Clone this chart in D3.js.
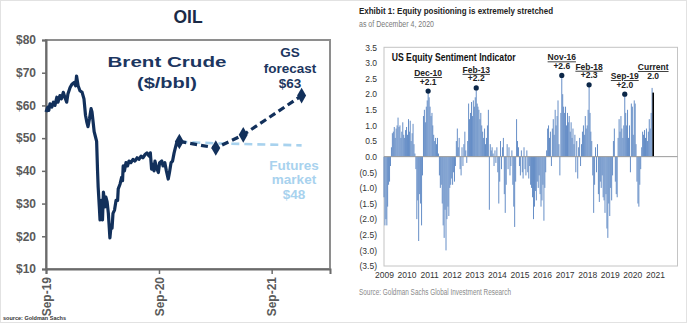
<!DOCTYPE html>
<html>
<head>
<meta charset="utf-8">
<script src="https://cdn.jsdelivr.net/npm/d3@7"></script>
<style>
body { margin: 0; background: #fff; }
svg { display: block; }
.oil text { font-family: "Liberation Sans", Arial, sans-serif; }
.eq text { font-family: "Liberation Sans Narrow", "Arial Narrow", "Liberation Sans", Arial, sans-serif; }
</style>
</head>
<body>
<svg id="chart" width="690" height="327"></svg>
<script>
// ---- left panel: Brent crude ($/bbl) ----
const brentDates = [
  "2019-09-01","2019-09-07","2019-09-10","2019-09-14","2019-09-20","2019-09-25","2019-09-30",
  "2019-10-06","2019-10-10","2019-10-16","2019-10-21","2019-10-27","2019-11-01","2019-11-07",
  "2019-11-11","2019-11-18","2019-11-24","2019-12-01","2019-12-06","2019-12-09","2019-12-14",
  "2019-12-20","2019-12-27","2020-01-02","2020-01-07","2020-01-11","2020-01-15","2020-01-20",
  "2020-01-25","2020-01-28","2020-01-31","2020-02-04","2020-02-08","2020-02-12","2020-02-15",
  "2020-02-17","2020-02-21","2020-02-23","2020-02-26","2020-02-28","2020-03-02","2020-03-05",
  "2020-03-08","2020-03-10","2020-03-13","2020-03-17","2020-03-21","2020-03-23","2020-03-26",
  "2020-03-30","2020-04-02","2020-04-05","2020-04-10","2020-04-15","2020-04-20","2020-04-22",
  "2020-04-28","2020-05-03","2020-05-06","2020-05-08","2020-05-12","2020-05-17","2020-05-22",
  "2020-05-27","2020-06-02","2020-06-09","2020-06-15","2020-06-22","2020-06-28","2020-07-05",
  "2020-07-11","2020-07-18","2020-07-24","2020-07-31","2020-08-04","2020-08-08","2020-08-13",
  "2020-08-16","2020-08-19","2020-08-24","2020-08-30","2020-09-03","2020-09-10","2020-09-14",
  "2020-09-20","2020-09-25","2020-10-01","2020-10-05","2020-10-10","2020-10-15","2020-10-20",
  "2020-10-24","2020-10-28","2020-11-02","2020-11-06"
];
const brentPrices = [
  58, 59.5, 58.5, 60.5, 59.5, 61, 60,
  62.5, 61, 63, 62, 64, 62.5, 61,
  63.5, 65.5, 66.5, 67, 66, 69, 66,
  64.5, 64, 62, 57, 55, 53.5, 56,
  59, 58, 55.5, 52, 50.5, 49, 40,
  35, 28.5, 25, 29, 31, 25, 33.5,
  31, 29, 32, 30.5, 27, 24, 19.5,
  23.5, 22.5, 27, 28, 31, 31, 34.5,
  36, 38, 37, 41.5, 40, 42.5, 41.5,
  43, 42.5, 43.5, 43, 44, 43.5, 44.5,
  44, 45, 45.5, 44.5, 45.5, 40.5, 42,
  40, 43, 41, 39.5, 42.5, 43, 41.5,
  42.5, 40, 37.5, 39.5, 42.5, 43, 45.5,
  47, 48.5, 48, 49
];
const gsDates = ["2020-11-06", "2021-03-04", "2021-06-01", "2021-12-07"];
const gsPrices = [49, 47, 51, 63];
const futuresDates = ["2020-11-06", "2021-03-04", "2021-12-07"];
const futuresPrices = [48.9, 48.4, 47.8];
const oilYTicks = [10, 20, 30, 40, 50, 60, 70, 80];
const oilXTicks = ["2019-09-01", "2020-09-01", "2021-09-01"];

// ---- right panel: US equity sentiment indicator, semi-monthly ----
const s2009 = [-1.3,-2.2,-2.0,-2.2,-1.6,-0.9,-0.8,-0.3,0.3,0.75,0.8,0.95,0.6,0.9,1.0,1.25,0.95,1.0,0.6,0.8,1.1,0.7,0.6,0.85];
const s2010 = [0.95,0.7,1.2,0.8,1.15,0.5,0.75,1.05,0.4,0.1,-0.4,-2.0,-1.4,-2.7,-1.2,-1.5,-2.2,-0.6,1.3,1.5,1.1,1.6,1.8,2.1];
const s2011 = [1.9,1.6,1.3,1.4,1.0,0.7,0.5,0.6,0.4,0.6,0.1,-0.6,-1.0,-0.9,-1.5,-2.2,-2.6,-1.7,-3.0,-2.0,-1.6,-1.9,-1.0,-0.9];
const s2012 = [-0.7,-0.9,-0.5,-0.8,-0.3,0.5,0.9,0.3,0.6,-0.4,-0.6,0.3,-0.3,0.4,0.8,0.2,-0.2,0.5,1.7,1.2,1.4,1.75,1.3,1.8];
const s2013 = [1.6,1.9,2.2,1.7,1.6,1.5,1.2,1.4,1.0,0.8,0.6,0.9,0.4,0.6,1.0,1.5,-1.7,0.4,0.2,0.3,0.1,-0.3,0.2,-0.2];
const s2014 = [0.3,-0.5,-1.5,-0.8,0.5,-0.4,0.3,0.6,-1.2,-1.8,-0.9,0.4,-0.4,0.3,-0.6,-0.3,0.2,-0.9,-1.6,-2.25,-0.8,1.2,0.5,0.3];
const s2015 = [-0.3,-0.6,0.2,-0.5,-0.7,0.3,-0.4,-0.6,0.2,-0.5,-0.7,-0.3,-0.9,-1.0,-1.3,-2.0,-1.6,-1.1,-1.4,-0.8,-1.0,-0.6,-1.2,-1.6];
const s2016 = [-1.4,-0.9,-2.05,-1.0,-0.5,0.2,0.9,1.0,0.6,0.8,-0.3,0.9,1.2,0.7,1.5,1.0,1.3,1.8,0.4,-0.6,1.4,2.6,2.0,1.6];
const s2017 = [1.4,1.6,1.0,1.4,1.1,1.3,0.8,1.1,0.6,0.9,0.4,0.7,-0.5,0.5,-0.7,0.3,0.6,-0.3,0.4,0.8,1.0,0.7,1.3,0.9];
const s2018 = [1.0,1.5,2.3,1.4,0.8,0.5,-0.6,-1.8,-0.9,0.3,-0.5,0.4,-1.2,-1.45,-0.8,-1.0,-0.6,-1.3,-1.4,-1.8,-1.2,-2.3,-2.6,-1.5];
const s2019 = [-1.9,-1.0,-1.4,-0.6,0.5,0.9,-0.8,-1.2,-1.3,0.6,1.2,0.8,1.3,0.9,0.6,1.0,2.0,1.4,1.0,1.5,0.6,1.0,-0.5,1.7];
const s2020 = [1.6,0.7,1.8,1.7,0.4,-0.8,-1.5,-1.6,-0.9,-0.4,0.3,0.8,0.7,0.85,0.6,0.9,0.5,0.8,1.2,0.9,1.4,2.2];
const sentimentYears = [s2009, s2010, s2011, s2012, s2013, s2014, s2015, s2016, s2017, s2018, s2019, s2020];
const currentDate = "2020-12-04";
const currentValue = 2.05;
const peakNames = ["Dec-10", "Feb-13", "Nov-16", "Feb-18", "Sep-19"];
const peakDates = ["2010-12-16", "2013-02-01", "2016-11-16", "2018-02-01", "2019-09-01"];
const peakValues = [2.1, 2.2, 2.6, 2.3, 2.0];
const peakTexts = ["+2.1", "+2.2", "+2.6", "+2.3", "+2.0"];
const sentYTicks = [-3.5, -3, -2.5, -2, -1.5, -1, -0.5, 0, 0.5, 1, 1.5, 2, 2.5, 3, 3.5];
const yearTicks = [2009, 2010, 2011, 2012, 2013, 2014, 2015, 2016, 2017, 2018, 2019, 2020, 2021];

const parse = d3.timeParse("%Y-%m-%d");
const svg = d3.select("#chart");

// dotted frame round the whole picture
svg.append("rect")
  .attr("x", 0.5).attr("y", 0.5).attr("width", 686).attr("height", 322)
  .attr("fill", "none").attr("stroke", "#c4c4c4").attr("stroke-dasharray", "1,1");

// ================= OIL =================
const oil = svg.append("g").attr("class", "oil");
const navy = "#12305b";
const light = "#a8d2ee";

const oilX = d3.scaleTime().domain([parse("2019-09-01"), parse("2022-03-09")]).range([46, 330]);
const oilY = d3.scaleLinear().domain([10, 80]).range([269, 40]);

oil.append("text").attr("x", 188).attr("y", 23).attr("text-anchor", "middle")
  .attr("font-size", 17.5).attr("font-weight", "bold").attr("fill", "#1b2a46").text("OIL");

oil.append("rect").attr("x", 46).attr("y", 40).attr("width", 284).attr("height", 229)
  .attr("fill", "none").attr("stroke", "#8e8e8e").attr("stroke-width", 2);

const oy = oil.append("g").attr("transform", "translate(46,0)")
  .call(d3.axisLeft(oilY).tickValues(oilYTicks).tickSize(4).tickPadding(6).tickFormat(d => "$" + d));
const ox = oil.append("g").attr("transform", "translate(0,269)")
  .call(d3.axisBottom(oilX).tickValues(oilXTicks.map(parse)).tickSize(5).tickFormat(d3.timeFormat("%b-%y")));
[oy, ox].forEach(a => {
  a.select(".domain").attr("stroke", "#6b6b6b").attr("stroke-width", 2);
  a.selectAll(".tick line").attr("stroke", "#6b6b6b").attr("stroke-width", 1.5);
  a.selectAll("text").attr("font-size", 12).attr("font-weight", "bold").attr("fill", "#5a5a5a")
    .attr("font-family", "'Liberation Sans', Arial, sans-serif");
});
ox.selectAll(".tick text")
  .attr("transform", "rotate(-90)").attr("text-anchor", "end")
  .attr("x", -8).attr("y", 0).attr("dy", "0.35em");

const oilLine = d3.line().x(d => oilX(d[0])).y(d => oilY(d[1]));

oil.append("path")
  .datum(futuresDates.map((d, i) => [parse(d), futuresPrices[i]]))
  .attr("d", oilLine).attr("fill", "none").attr("stroke", light)
  .attr("stroke-width", 2.6).attr("stroke-dasharray", "8,5");

const gsPts = gsDates.map((d, i) => [parse(d), gsPrices[i]]);
oil.append("path").datum(gsPts).attr("d", oilLine)
  .attr("fill", "none").attr("stroke", navy).attr("stroke-width", 3.2).attr("stroke-dasharray", "7,4");
oil.selectAll(".gs-pt").data(gsPts).enter().append("path")
  .attr("class", "gs-pt")
  .attr("transform", d => `translate(${oilX(d[0])},${oilY(d[1])})`)
  .attr("d", d3.symbol(d3.symbolDiamond).size(70)).attr("fill", navy);

oil.append("path")
  .datum(brentDates.map((d, i) => [parse(d), brentPrices[i]]))
  .attr("d", oilLine).attr("fill", "none").attr("stroke", navy)
  .attr("stroke-width", 3.2).attr("stroke-linejoin", "round");

oil.append("text").attr("x", 167).attr("y", 66.5).attr("text-anchor", "middle")
  .attr("font-size", 15.5).attr("font-weight", "bold").attr("fill", "#1c3660")
  .attr("textLength", 119).attr("lengthAdjust", "spacingAndGlyphs").text("Brent  Crude");
oil.append("text").attr("x", 167).attr("y", 88).attr("text-anchor", "middle")
  .attr("font-size", 15.5).attr("font-weight", "bold").attr("fill", "#1c3660")
  .attr("textLength", 60).attr("lengthAdjust", "spacingAndGlyphs").text("($/bbl)");

[["GS", 56.5], ["forecast", 72.5], ["$63", 88]].forEach(([t, y]) => {
  oil.append("text").attr("x", 290).attr("y", y).attr("text-anchor", "middle")
    .attr("font-size", 13.5).attr("font-weight", "bold").attr("fill", "#1c3660").text(t);
});
[["Futures", 169.5], ["market", 184], ["$48", 198.5]].forEach(([t, y]) => {
  oil.append("text").attr("x", 294).attr("y", y).attr("text-anchor", "middle")
    .attr("font-size", 13.5).attr("font-weight", "bold").attr("fill", light).text(t);
});

oil.append("text").attr("x", 3).attr("y", 320)
  .attr("font-size", 5.5).attr("font-weight", "bold").attr("fill", "#333").text("source: Goldman Sachs");

// ================= EQUITY SENTIMENT =================
const eq = svg.append("g").attr("class", "eq");

eq.append("text").attr("x", 359).attr("y", 13.5)
  .attr("font-size", 9.5).attr("font-weight", "bold").attr("fill", "#222")
  .attr("textLength", 194).attr("lengthAdjust", "spacingAndGlyphs")
  .text("Exhibit 1: Equity positioning is extremely stretched");
eq.append("text").attr("x", 359).attr("y", 26.5)
  .attr("font-size", 8.5).attr("fill", "#7a7a7a")
  .attr("textLength", 75).attr("lengthAdjust", "spacingAndGlyphs")
  .text("as of December 4, 2020");

const sx = d3.scaleTime().domain([new Date(2009, 0, 1), new Date(2022, 0, 1)]).range([384, 677.5]);
const sy = d3.scaleLinear().domain([-3.5, 3.5]).range([266, 47.3]);

eq.append("rect").attr("x", 384).attr("y", 47.3).attr("width", 293.5).attr("height", 218.7)
  .attr("fill", "none").attr("stroke", "#c4c4c4").attr("stroke-width", 1);

const sentiment = [];
sentimentYears.forEach((vals, yi) => {
  vals.forEach((v, i) => {
    sentiment.push({ date: new Date(2009 + yi, Math.floor(i / 2), i % 2 ? 16 : 1), value: v });
  });
});

const bw = 0.95;
eq.selectAll(".bar").data(sentiment).enter().append("rect")
  .attr("class", "bar")
  .attr("x", d => sx(d.date) - bw / 2)
  .attr("y", d => sy(Math.max(0, d.value)))
  .attr("width", bw)
  .attr("height", d => Math.abs(sy(d.value) - sy(0)))
  .attr("fill", "#5f89c4");

eq.append("rect")
  .attr("x", sx(parse(currentDate)) - 0.8).attr("y", sy(currentValue))
  .attr("width", 1.6).attr("height", sy(0) - sy(currentValue)).attr("fill", "#000");

eq.append("line").attr("x1", 384).attr("x2", 677.5).attr("y1", sy(0)).attr("y2", sy(0))
  .attr("stroke", "#9a9a9a").attr("stroke-width", 1);

const syAxis = eq.append("g").attr("transform", "translate(384,0)")
  .call(d3.axisLeft(sy).tickValues(sentYTicks).tickSize(0).tickPadding(7)
    .tickFormat(d => d < 0 ? "(" + d3.format(".1f")(-d) + ")" : d3.format(".1f")(d)));
const sxAxis = eq.append("g").attr("transform", "translate(0,266)")
  .call(d3.axisBottom(sx).tickValues(yearTicks.map(y => new Date(y, 0, 1))).tickSize(0).tickPadding(5.5)
    .tickFormat(d3.timeFormat("%Y")));
[syAxis, sxAxis].forEach(a => {
  a.select(".domain").remove();
  a.selectAll("text").attr("font-size", 8.5).attr("fill", "#333")
    .attr("font-family", "'Liberation Sans Narrow', 'Arial Narrow', 'Liberation Sans', sans-serif");
});

eq.append("text").attr("x", 391.7).attr("y", 60.7)
  .attr("font-size", 10).attr("font-weight", "bold").attr("fill", "#111")
  .attr("textLength", 124).attr("lengthAdjust", "spacingAndGlyphs")
  .text("US Equity Sentiment Indicator");

const peaks = peakNames.map((n, i) => ({ name: n, date: parse(peakDates[i]), value: peakValues[i], txt: peakTexts[i] }));
eq.selectAll(".peak").data(peaks).enter().append("circle")
  .attr("class", "peak")
  .attr("cx", d => sx(d.date)).attr("cy", d => sy(d.value)).attr("r", 2.6).attr("fill", "#0c2748");
eq.selectAll(".peak-name").data(peaks).enter().append("text")
  .attr("class", "peak-name")
  .attr("x", d => sx(d.date)).attr("y", d => sy(d.value) - 15).attr("text-anchor", "middle")
  .attr("font-size", 8.5).attr("font-weight", "bold").attr("fill", "#222")
  .attr("text-decoration", "underline").text(d => d.name);
eq.selectAll(".peak-val").data(peaks).enter().append("text")
  .attr("class", "peak-val")
  .attr("x", d => sx(d.date)).attr("y", d => sy(d.value) - 6.5).attr("text-anchor", "middle")
  .attr("font-size", 8.5).attr("font-weight", "bold").attr("fill", "#222").text(d => d.txt);

const cx = sx(parse(currentDate));
eq.append("text").attr("x", cx).attr("y", 70).attr("text-anchor", "middle")
  .attr("font-size", 8.5).attr("font-weight", "bold").attr("fill", "#222")
  .attr("text-decoration", "underline").text("Current");
eq.append("text").attr("x", cx).attr("y", 79.3).attr("text-anchor", "middle")
  .attr("font-size", 8.5).attr("font-weight", "bold").attr("fill", "#222").text("2.0");

eq.append("text").attr("x", 359).attr("y", 295)
  .attr("font-size", 8.5).attr("fill", "#8a8a8a")
  .attr("textLength", 152).attr("lengthAdjust", "spacingAndGlyphs")
  .text("Source: Goldman Sachs Global Investment Research");
</script>
</body>
</html>
